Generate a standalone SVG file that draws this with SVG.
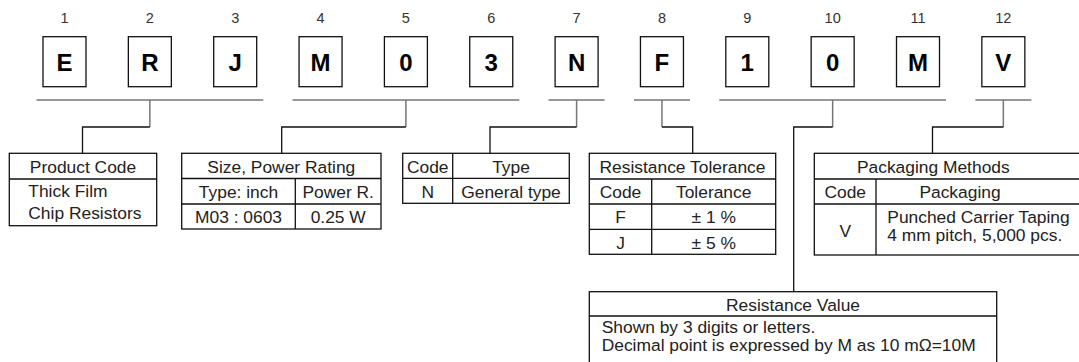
<svg xmlns="http://www.w3.org/2000/svg" width="1079" height="362" viewBox="0 0 1079 362">
<style>
.num{font-family:"Liberation Sans",Arial,sans-serif;font-size:14.5px;fill:#333;text-anchor:middle}
.chr{font-family:"Liberation Sans",Arial,sans-serif;font-size:24px;font-weight:bold;fill:#000;text-anchor:middle}
.box{fill:#fff;stroke:#111;stroke-width:1.3}
.t{font-family:"Liberation Sans",Arial,sans-serif;font-size:17.4px;fill:#222}
.c{text-anchor:middle}
.grid{fill:none;stroke:#111;stroke-width:1.3}
.ul{fill:none;stroke:#777;stroke-width:1.5}
.con{fill:none;stroke:#111;stroke-width:1.3}
</style>
<rect width="1079" height="362" fill="#fff"/>

<g id="digits">
<g id="d1"><text class="num" x="64.5" y="23.3">1</text><rect class="box" x="43" y="36.7" width="43" height="50"/><text class="chr" x="64.5" y="71">E</text></g>
<g id="d2"><text class="num" x="149.85" y="23.3">2</text><rect class="box" x="128.35" y="36.7" width="43" height="50"/><text class="chr" x="149.85" y="71">R</text></g>
<g id="d3"><text class="num" x="235.2" y="23.3">3</text><rect class="box" x="213.7" y="36.7" width="43" height="50"/><text class="chr" x="235.2" y="71">J</text></g>
<g id="d4"><text class="num" x="320.55" y="23.3">4</text><rect class="box" x="299.05" y="36.7" width="43" height="50"/><text class="chr" x="320.55" y="71">M</text></g>
<g id="d5"><text class="num" x="405.9" y="23.3">5</text><rect class="box" x="384.4" y="36.7" width="43" height="50"/><text class="chr" x="405.9" y="71">0</text></g>
<g id="d6"><text class="num" x="491.25" y="23.3">6</text><rect class="box" x="469.75" y="36.7" width="43" height="50"/><text class="chr" x="491.25" y="71">3</text></g>
<g id="d7"><text class="num" x="576.6" y="23.3">7</text><rect class="box" x="555.1" y="36.7" width="43" height="50"/><text class="chr" x="576.6" y="71">N</text></g>
<g id="d8"><text class="num" x="661.95" y="23.3">8</text><rect class="box" x="640.45" y="36.7" width="43" height="50"/><text class="chr" x="661.95" y="71">F</text></g>
<g id="d9"><text class="num" x="747.3" y="23.3">9</text><rect class="box" x="725.8" y="36.7" width="43" height="50"/><text class="chr" x="747.3" y="71">1</text></g>
<g id="d10"><text class="num" x="832.65" y="23.3">10</text><rect class="box" x="811.15" y="36.7" width="43" height="50"/><text class="chr" x="832.65" y="71">0</text></g>
<g id="d11"><text class="num" x="918" y="23.3">11</text><rect class="box" x="896.5" y="36.7" width="43" height="50"/><text class="chr" x="918" y="71">M</text></g>
<g id="d12"><text class="num" x="1003.35" y="23.3">12</text><rect class="box" x="981.85" y="36.7" width="43" height="50"/><text class="chr" x="1003.35" y="71">V</text></g>
</g>

<g id="connectors">
<path class="ul" d="M36.5 100H263.2M292.6 100H519.3M548.6 100H604.6M634 100H690M719.3 100H946M975.4 100H1031.4"/>
<path class="ul" d="M149.85 100V127M405.9 100V127M576.6 100V127M661.95 100V127M832.65 100V127M1003.35 100V127"/>
<path class="con" d="M149.85 127H82.5V153.3M405.9 127H281.7V153.3M576.6 127H490V153.3M661.95 127H692.7V153.3M832.65 127H793.7V291.7M1003.35 127H932.5V153.3"/>
</g>

<g id="product-code">
<rect class="grid" x="9.3" y="153.3" width="147.4" height="72.4"/>
<path class="grid" d="M9.3 179H156.7"/>
<text class="t c" x="83" y="172.7">Product Code</text>
<text class="t" x="28.3" y="196.7">Thick Film</text>
<text class="t" x="28.3" y="219">Chip Resistors</text>
</g>

<g id="size-power">
<rect class="grid" x="181.7" y="153.3" width="199.3" height="75.7"/>
<path class="grid" d="M181.7 178.5H381M181.7 204H381M295.3 178.5V229"/>
<text class="t c" x="281.3" y="172.7">Size, Power Rating</text>
<text class="t c" x="238.5" y="198">Type: inch</text>
<text class="t c" x="338.2" y="198">Power R.</text>
<text class="t c" x="238.5" y="223.3">M03 : 0603</text>
<text class="t c" x="338.2" y="223.3">0.25 W</text>
</g>

<g id="type">
<rect class="grid" x="402.7" y="153.3" width="166.6" height="50"/>
<path class="grid" d="M402.7 178.3H569.3M452.7 153.3V203.3"/>
<text class="t c" x="427.7" y="172.7">Code</text>
<text class="t c" x="511" y="172.7">Type</text>
<text class="t c" x="427.7" y="198">N</text>
<text class="t c" x="511" y="198">General type</text>
</g>

<g id="tolerance">
<rect class="grid" x="589.3" y="153.3" width="186.4" height="101"/>
<path class="grid" d="M589.3 179H775.7M589.3 204H775.7M589.3 229.3H775.7M651.7 179V254.3"/>
<text class="t c" x="682.5" y="172.7">Resistance Tolerance</text>
<text class="t c" x="620.5" y="198">Code</text>
<text class="t c" x="713.7" y="198">Tolerance</text>
<text class="t c" x="620.5" y="223.3">F</text>
<text class="t c" x="713.7" y="223.3">± 1 %</text>
<text class="t c" x="620.5" y="248.6">J</text>
<text class="t c" x="713.7" y="248.6">± 5 %</text>
</g>

<g id="packaging">
<rect class="grid" x="814.3" y="153.3" width="266" height="101.7"/>
<path class="grid" d="M814.3 179H1080M814.3 204H1080M876 179V255"/>
<text class="t c" x="933.3" y="172.7">Packaging Methods</text>
<text class="t c" x="845.2" y="198">Code</text>
<text class="t c" x="960" y="198">Packaging</text>
<text class="t c" x="845.2" y="236.5">V</text>
<text class="t" x="887.3" y="223.3">Punched Carrier Taping</text>
<text class="t" x="887.3" y="240.7">4 mm pitch, 5,000 pcs.</text>
</g>

<g id="resistance-value">
<rect class="grid" x="589.3" y="291.7" width="407.4" height="75"/>
<path class="grid" d="M589.3 316H996.7"/>
<text class="t c" x="793" y="310.8">Resistance Value</text>
<text class="t" x="601.7" y="333.3">Shown by 3 digits or letters.</text>
<text class="t" x="601.7" y="351">Decimal point is expressed by M as 10 mΩ=10M</text>
</g>
</svg>
